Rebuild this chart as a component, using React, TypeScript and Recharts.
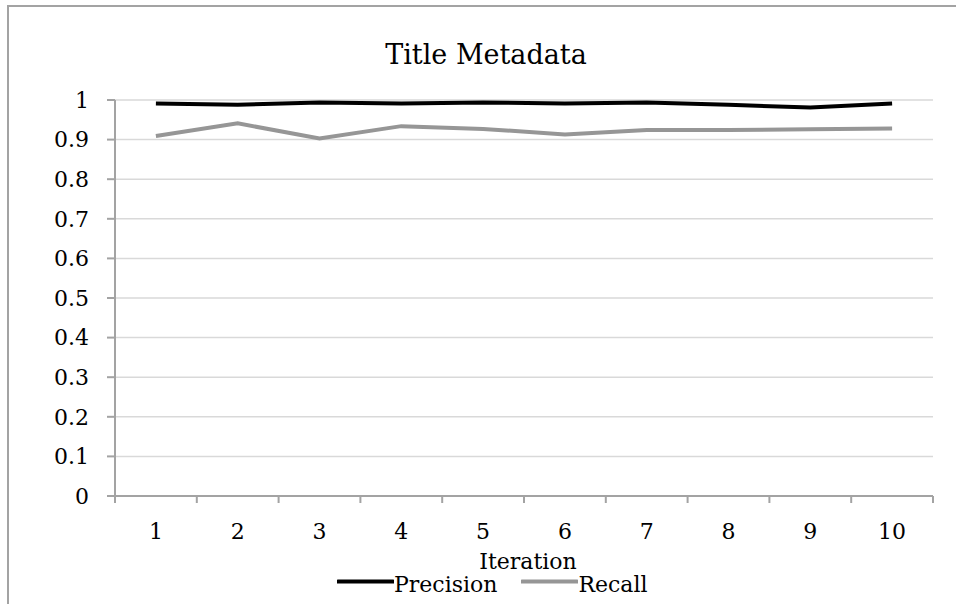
import { LineChart, Line, XAxis, YAxis, CartesianGrid, Legend } from 'recharts'

const iterations = [1, 2, 3, 4, 5, 6, 7, 8, 9, 10]
const precision = [0.991, 0.988, 0.994, 0.991, 0.994, 0.991, 0.994, 0.988, 0.981, 0.991]
const recall = [0.909, 0.941, 0.903, 0.934, 0.927, 0.913, 0.924, 0.924, 0.926, 0.928]
const yTicks = [0, 0.1, 0.2, 0.3, 0.4, 0.5, 0.6, 0.7, 0.8, 0.9, 1]
// label ticks sit on the integers, tick marks on the half steps between them
const xTicks = [0.5, 1, 1.5, 2, 2.5, 3, 3.5, 4, 4.5, 5, 5.5, 6, 6.5, 7, 7.5, 8, 8.5, 9, 9.5, 10, 10.5]

const FONT = '"DejaVu Serif", serif'
const AXIS = '#a3a3a3'

const data = iterations.map((it, i) => ({
  iteration: it,
  Precision: precision[i],
  Recall: recall[i]
}))

const XTick = (props: any) => {
  const { x, y, payload } = props
  const v = payload.value
  if (!Number.isInteger(v)) {
    return <line x1={x} x2={x} y1={y} y2={y + 7} stroke={AXIS} strokeWidth={2} />
  }
  return (
    <text x={x} y={y + 43} textAnchor="middle" fontFamily={FONT} fontSize={22} fill="#000">
      {v}
    </text>
  )
}

const LegendContent = (props: any) => {
  const { payload } = props
  return (
    <div style={{ display: 'flex', alignItems: 'flex-start', fontFamily: FONT, fontSize: 22, lineHeight: '26px', color: '#000' }}>
      {payload.map((p: any, i: number) => (
        <div key={p.value} style={{ display: 'flex', alignItems: 'flex-start', marginLeft: i === 0 ? 0 : 24 }}>
          <svg width={57} height={26}>
            <line x1={1} x2={56} y1={9.6} y2={9.6} stroke={p.color} strokeWidth={4} strokeLinecap="round" />
          </svg>
          <span>{p.value}</span>
        </div>
      ))}
    </div>
  )
}

export default function App() {
  return (
    <div style={{ position: 'absolute', left: 0, top: 0, width: 956, height: 604, background: '#fff', overflow: 'hidden' }}>
      <div style={{ position: 'absolute', left: 7, top: 5, width: 960, height: 610, borderLeft: `2px solid ${AXIS}`, borderTop: `2px solid ${AXIS}` }} />
      <div style={{ position: 'absolute', left: 336, top: 39, width: 300, textAlign: 'center', fontFamily: FONT, fontSize: 27, lineHeight: '32px', color: '#000' }}>
        Title Metadata
      </div>
      <LineChart width={956} height={604} data={data} margin={{ top: 100, right: 23, left: 0, bottom: 0 }}>
        <CartesianGrid vertical={false} stroke="#d9d9d9" strokeWidth={1.5} />
        <XAxis
          dataKey="iteration"
          type="number"
          domain={[0.5, 10.5]}
          ticks={xTicks}
          interval={0}
          height={108}
          axisLine={{ stroke: AXIS, strokeWidth: 2 }}
          tickLine={false}
          tickSize={0}
          tickMargin={0}
          tick={XTick}
          label={(lp: any) => {
            const vb = lp.viewBox
            return (
              <text x={vb.x + vb.width / 2 + 4} y={vb.y + 73} textAnchor="middle" fontFamily={FONT} fontSize={22} fill="#000">
                Iteration
              </text>
            )
          }}
        />
        <YAxis
          type="number"
          domain={[0, 1]}
          ticks={yTicks}
          interval={0}
          width={115}
          axisLine={{ stroke: AXIS, strokeWidth: 2 }}
          tickLine={{ stroke: AXIS, strokeWidth: 2 }}
          tickSize={8}
          tickMargin={18}
          tick={{ fontFamily: FONT, fontSize: 22, fill: '#000' }}
        />
        <Legend
          layout="horizontal"
          verticalAlign="middle"
          align="center"
          content={LegendContent}
          wrapperStyle={{ top: 572, left: 337, width: 'auto' }}
        />
        <Line type="linear" dataKey="Precision" stroke="#000" strokeWidth={4} dot={false} activeDot={false} isAnimationActive={false} />
        <Line type="linear" dataKey="Recall" stroke="#969696" strokeWidth={4} dot={false} activeDot={false} isAnimationActive={false} />
      </LineChart>
    </div>
  )
}
